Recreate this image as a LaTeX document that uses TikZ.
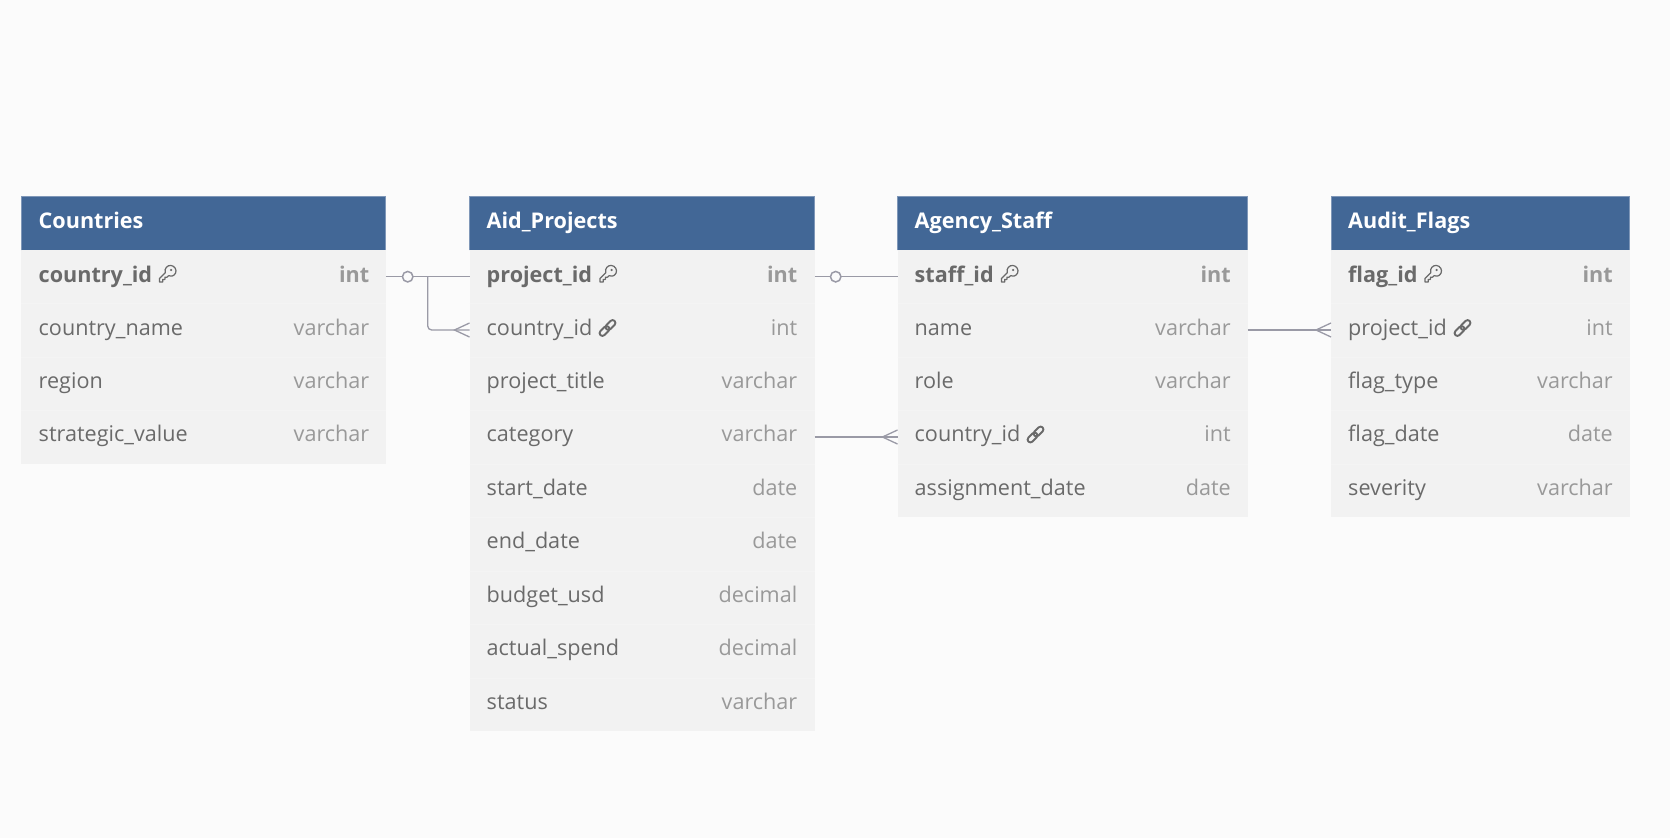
\documentclass[tikz,border=0pt]{standalone}
\usepackage{fontspec}
\setmainfont{Open Sans}
\definecolor{bgc}{HTML}{FBFBFB}
\definecolor{rowc}{HTML}{F2F2F2}
\definecolor{sepc}{HTML}{F4F4F4}
\definecolor{headc}{HTML}{426796}
\definecolor{headedge}{HTML}{7F97B8}
\definecolor{namec}{HTML}{6A6A6A}
\definecolor{typec}{HTML}{999999}
\definecolor{linec}{HTML}{9A9AA6}
\definecolor{iconc}{HTML}{6A6A6A}
\tikzset{
  x=1pt,y=-1pt,
  headbox/.style={fill=headc,draw=none,anchor=north west,inner sep=0pt,outer sep=0pt},
  rowbox/.style={fill=rowc,draw=none,anchor=north west,inner sep=0pt,outer sep=0pt},
  headtxt/.style={anchor=base west,inner sep=0pt,text=white,font=\fontsize{21.6}{25}\selectfont\bfseries},
  nametxt/.style={anchor=base west,inner sep=0pt,text=namec,font=\fontsize{21.6}{25}\selectfont},
  typetxt/.style={anchor=base east,inner sep=0pt,text=typec,font=\fontsize{21.6}{25}\selectfont},
  pkname/.style={nametxt,font=\fontsize{21.6}{25}\selectfont\bfseries},
  pktype/.style={typetxt,font=\fontsize{21.6}{25}\selectfont\bfseries},
  conn/.style={draw=linec,line width=1.3pt,rounded corners=4pt},
  keyicon/.style={draw=iconc,line width=1.25pt,line join=round,line cap=round},
  linkicon/.style={draw=iconc,line width=1.9pt,rounded corners=2.7pt},
  zero/.style={circle,draw=linec,line width=1.5pt,fill=bgc,minimum size=10.5pt,inner sep=0pt},
}
\newcommand{\keyglyph}[1]{%
  \begin{scope}[shift={(#1)}]
    \draw[keyicon] (-8,8) -- (-8,4.5) -- (-2.2,-1.3)
      .. controls (-3.6,-5.5) and (0,-8.8) .. (3.2,-8.6)
      .. controls (7.5,-8.3) and (9.5,-3.8) .. (8,-0.8)
      .. controls (6.5,2.2) and (3.2,2.8) .. (1,1.8)
      -- (-0.5,3.2) -- (-2.6,3.2) -- (-2.6,5.4) -- (-4.8,5.4) -- (-4.8,8) -- cycle;
    \fill[iconc] (3.6,-4) circle (1.2pt);
  \end{scope}}
\newcommand{\linkglyph}[1]{%
  \begin{scope}[shift={(#1)},rotate=45]
    \draw[linkicon] (-10,-2.8) rectangle (1.5,2.8);
    \draw[linkicon] (-1.5,-2.8) rectangle (10,2.8);
  \end{scope}}
\begin{document}
\begin{tikzpicture}
\useasboundingbox (0,0) rectangle (1670,838);
\fill[bgc] (0,0) rectangle (1670,838);

% Countries
\node[rowbox,minimum width=364.5pt,minimum height=214pt] (cbody) at (21.3,250) {};
\node[headbox,minimum width=364.5pt,minimum height=54pt] (chead) at (21.3,196.3) {};
% Aid_Projects
\node[rowbox,minimum width=345pt,minimum height=481pt] (pbody) at (469.5,250) {};
\node[headbox,minimum width=345pt,minimum height=54pt] (phead) at (469.5,196.3) {};
% Agency_Staff
\node[rowbox,minimum width=350.3pt,minimum height=267pt] (sbody) at (897.5,250) {};
\node[headbox,minimum width=350.3pt,minimum height=54pt] (shead) at (897.5,196.3) {};
% Audit_Flags
\node[rowbox,minimum width=298.8pt,minimum height=267pt] (fbody) at (1331,250) {};
\node[headbox,minimum width=298.8pt,minimum height=54pt] (fhead) at (1331,196.3) {};

% light header edge
\foreach \n in {chead,phead,shead,fhead}
  \draw[headedge,line width=0.7pt] (\n.south west) -- (\n.north west) -- (\n.north east) -- (\n.south east);

% faint row separators
\foreach \y in {303.5,357,410.5} \draw[sepc,line width=0.8pt] (cbody.west |- 0,\y) -- (cbody.east |- 0,\y);
\foreach \y in {303.5,357,410.5,464,517.5,571,624.5,678} \draw[sepc,line width=0.8pt] (pbody.west |- 0,\y) -- (pbody.east |- 0,\y);
\foreach \y in {303.5,357,410.5,464} \draw[sepc,line width=0.8pt] (sbody.west |- 0,\y) -- (sbody.east |- 0,\y);
\foreach \y in {303.5,357,410.5,464} \draw[sepc,line width=0.8pt] (fbody.west |- 0,\y) -- (fbody.east |- 0,\y);

% Headers
\node[headtxt] (t1) at (38.5,228.5) {Countries};
\node[headtxt] (t2) at (486.5,228.5) {Aid\_Projects};
\node[headtxt] (t3) at (914.5,228.5) {Agency\_Staff};
\node[headtxt] (t4) at (1348,228.5) {Audit\_Flags};

% Countries rows
\node[pkname] (c1) at (38.5,282) {country\_id};
\node[pktype] (c1t) at (369.5,282) {int};
\keyglyph{167.5,274}
\node[nametxt] (c2) at (38.5,335.5) {country\_name};
\node[typetxt] (c2t) at (369.5,335.5) {varchar};
\node[nametxt] (c3) at (38.5,388.5) {region};
\node[typetxt] (c3t) at (369.5,388.5) {varchar};
\node[nametxt] (c4) at (38.5,441.5) {strategic\_value};
\node[typetxt] (c4t) at (369.5,441.5) {varchar};

% Aid_Projects rows
\node[pkname] (p1) at (486.5,282) {project\_id};
\node[pktype] (p1t) at (797.5,282) {int};
\keyglyph{608,274}
\node[nametxt] (p2) at (486.5,335.5) {country\_id};
\node[typetxt] (p2t) at (797.5,335.5) {int};
\linkglyph{607.5,328}
\node[nametxt] (p3) at (486.5,388.5) {project\_title};
\node[typetxt] (p3t) at (797.5,388.5) {varchar};
\node[nametxt] (p4) at (486.5,441.5) {category};
\node[typetxt] (p4t) at (797.5,441.5) {varchar};
\node[nametxt] (p5) at (486.5,495.5) {start\_date};
\node[typetxt] (p5t) at (797.5,495.5) {date};
\node[nametxt] (p6) at (486.5,548.5) {end\_date};
\node[typetxt] (p6t) at (797.5,548.5) {date};
\node[nametxt] (p7) at (486.5,602.5) {budget\_usd};
\node[typetxt] (p7t) at (797.5,602.5) {decimal};
\node[nametxt] (p8) at (486.5,655.5) {actual\_spend};
\node[typetxt] (p8t) at (797.5,655.5) {decimal};
\node[nametxt] (p9) at (486.5,709.5) {status};
\node[typetxt] (p9t) at (797.5,709.5) {varchar};

% Agency_Staff rows
\node[pkname] (s1) at (914.5,282) {staff\_id};
\node[pktype] (s1t) at (1231,282) {int};
\keyglyph{1009.5,274}
\node[nametxt] (s2) at (914.5,335.5) {name};
\node[typetxt] (s2t) at (1231,335.5) {varchar};
\node[nametxt] (s3) at (914.5,388.5) {role};
\node[typetxt] (s3t) at (1231,388.5) {varchar};
\node[nametxt] (s4) at (914.5,441.5) {country\_id};
\node[typetxt] (s4t) at (1231,441.5) {int};
\linkglyph{1035.5,434.5}
\node[nametxt] (s5) at (914.5,495.5) {assignment\_date};
\node[typetxt] (s5t) at (1231,495.5) {date};

% Audit_Flags rows
\node[pkname] (f1) at (1348,282) {flag\_id};
\node[pktype] (f1t) at (1613,282) {int};
\keyglyph{1433,274}
\node[nametxt] (f2) at (1348,335.5) {project\_id};
\node[typetxt] (f2t) at (1613,335.5) {int};
\linkglyph{1462.5,328}
\node[nametxt] (f3) at (1348,388.5) {flag\_type};
\node[typetxt] (f3t) at (1613,388.5) {varchar};
\node[nametxt] (f4) at (1348,441.5) {flag\_date};
\node[typetxt] (f4t) at (1613,441.5) {date};
\node[nametxt] (f5) at (1348,495.5) {severity};
\node[typetxt] (f5t) at (1613,495.5) {varchar};

% Connector anchors
\coordinate (a1) at (cbody.east |- 0,276.7);
\coordinate (a2) at (pbody.west |- 0,276.7);
\coordinate (a3) at (pbody.west |- 0,330);
\coordinate (j1) at (427.7,276.7);
\coordinate (b1) at (pbody.east |- 0,276.7);
\coordinate (b2) at (sbody.west |- 0,276.7);
\coordinate (d1) at (pbody.east |- 0,437);
\coordinate (d2) at (sbody.west |- 0,437);
\coordinate (e1) at (sbody.east |- 0,330);
\coordinate (e2) at (fbody.west |- 0,330);

\draw[conn] (a1) -- (a2);
\draw[conn] (j1) -- (j1 |- a3) -- (a3);
\draw[conn] (b1) -- (b2);
\draw[conn] (d1) -- (d2);
\draw[conn] (e1) -- (e2);

% zero markers
\node[zero] (z1) at (407.7,276.7) {};
\node[zero] (z2) at (835.7,276.7) {};

% crow feet
\foreach \t in {a3,d2,e2} {
  \draw[conn,rounded corners=0pt] ([shift={(0,-7)}]\t) -- ([shift={(-15,0)}]\t) -- ([shift={(0,7)}]\t);
}
\end{tikzpicture}
\end{document}
